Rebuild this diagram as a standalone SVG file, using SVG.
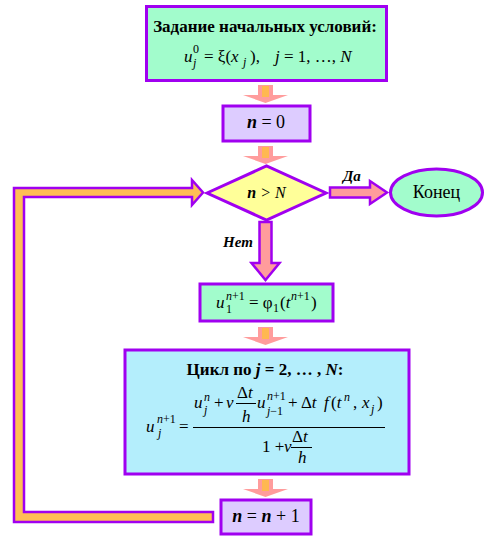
<svg xmlns="http://www.w3.org/2000/svg" width="504" height="550" viewBox="0 0 504 550" font-family="Liberation Serif, Times New Roman, serif">
<defs>
<style>
.box{stroke:#A000F0;stroke-width:3}
.g{fill:#A2FCCC}.l{fill:#DDCCFF}.c{fill:#B4EEFC}.y{fill:#FFFF99}
text{font-family:'Liberation Serif',serif;fill:#000;font-size:17px}
.s{font-size:12px}
.i{font-style:italic}
.b{font-weight:bold}
.ar{fill:#FF9C9C;stroke:#A000F0;stroke-width:2.5;stroke-linejoin:miter}
.bar{stroke:#000;stroke-width:1}
</style>
<g id="smallArrow">
<polygon points="-7.5,0 7.5,0 7.5,10 22.5,10 0,18 -22.5,10 -7.5,10" fill="#FF9C9C"/>
<rect x="-3.5" y="1" width="7" height="11" fill="#FFB850"/>
</g>
</defs>
<rect width="504" height="550" fill="#fff"/>

<g id="connectors">
<use href="#smallArrow" x="265.5" y="85"/>
<use href="#smallArrow" x="265.5" y="146"/>
<use href="#smallArrow" x="265.5" y="327"/>
<use href="#smallArrow" x="265.5" y="479"/>
<polygon class="ar" points="330,187.5 370,187.5 370,181 387,192.5 370,204 370,197.5 330,197.5"/>
<polygon class="ar" points="259.5,222 271.5,222 271.5,263 279.5,263 265.5,280 251.5,263 259.5,263"/>
<polygon points="213,512 24,512 24,197 192,197 192,205 203,192.5 192,180 192,188 14,188 14,522 213,522" fill="#FFBE55" stroke="#A000F0" stroke-width="2.5"/>
<text class="i b" x="343" y="181" style="font-size:15px">Да</text>
<text class="i b" x="223" y="247" style="font-size:15px">Нет</text>
</g>

<g id="init">
<rect class="box g" x="146.5" y="6.5" width="240" height="74"/>
<text class="b" x="265" y="32" text-anchor="middle">Задание начальных условий:</text>
<text class="i" x="184" y="62">u</text>
<text class="s" x="193" y="53">0</text>
<text class="s i" x="193" y="67">j</text>
<text x="204" y="62">= ξ(<tspan class="i">x</tspan></text>
<text class="s i" x="243" y="66">j</text>
<text x="250" y="62">),</text>
<text x="275" y="62"><tspan class="i">j</tspan> = 1, …, <tspan class="i">N</tspan></text>
</g>

<g id="n0">
<rect class="box l" x="223" y="106" width="87" height="35"/>
<text x="266" y="128" text-anchor="middle" style="font-size:18px"><tspan class="i b">n</tspan> = 0</text>
</g>

<g id="cond">
<polygon class="box y" points="207,193 266.5,166 326,193 266.5,220"/>
<text class="i" x="266.5" y="198" text-anchor="middle" style="font-size:16px"><tspan class="b">n</tspan> &gt; N</text>
</g>

<g id="end">
<ellipse class="box g" cx="436.5" cy="192.5" rx="46" ry="23.5"/>
<text x="436.5" y="198" text-anchor="middle" style="font-size:18px">Конец</text>
</g>

<g id="boundary">
<rect class="box g" x="200" y="284" width="133" height="37"/>
<text class="i" x="216" y="308">u</text>
<text class="s" x="226" y="300"><tspan class="i">n</tspan>+1</text>
<text class="s" x="226" y="313">1</text>
<text x="249" y="308">= φ</text>
<text class="s" x="273" y="312">1</text>
<text x="280" y="308">(<tspan class="i">t</tspan></text>
<text class="s" x="291" y="300"><tspan class="i">n</tspan>+1</text>
<text x="311" y="308">)</text>
</g>

<g id="loop">
<rect class="box c" x="125" y="350" width="284" height="124"/>
<text class="b" x="265" y="375" text-anchor="middle">Цикл по <tspan class="i">j</tspan> = 2, … , <tspan class="i">N</tspan>:</text>
<text class="i" x="146" y="432">u</text>
<text class="s" x="157" y="423"><tspan class="i">n</tspan>+1</text>
<text class="s i" x="158" y="437">j</text>
<text x="179" y="432">=</text>
<line class="bar" x1="193" y1="427.5" x2="385" y2="427.5"/>
<text class="i" x="194" y="408">u</text>
<text class="s i" x="204" y="401">n</text>
<text class="s i" x="204" y="414">j</text>
<text x="214" y="408">+</text>
<text class="i" x="226" y="408">ν</text>
<text x="237" y="398">Δ<tspan class="i">t</tspan></text>
<line class="bar" x1="236" y1="403.5" x2="256" y2="403.5"/>
<text class="i" x="242" y="422">h</text>
<text class="i" x="257" y="408">u</text>
<text class="s" x="267" y="400"><tspan class="i">n</tspan>+1</text>
<text class="s" x="267" y="415"><tspan class="i">j</tspan>−1</text>
<text x="288" y="408">+ Δ<tspan class="i">t</tspan></text>
<text class="i" x="324" y="408">f</text>
<text x="331" y="408">(<tspan class="i">t</tspan></text>
<text class="s i" x="344" y="401">n</text>
<text x="353" y="408">,</text>
<text class="i" x="362" y="408">x</text>
<text class="s i" x="371" y="413">j</text>
<text x="377" y="408">)</text>
<text x="262" y="452">1 +</text>
<text class="i" x="284" y="452">ν</text>
<text x="292" y="442">Δ<tspan class="i">t</tspan></text>
<line class="bar" x1="291" y1="447.5" x2="312" y2="447.5"/>
<text class="i" x="298" y="463">h</text>
</g>

<g id="inc">
<rect class="box l" x="221" y="500" width="90" height="34"/>
<text x="266" y="522" text-anchor="middle" style="font-size:18px"><tspan class="i b">n</tspan> = <tspan class="i b">n</tspan> + 1</text>
</g>
</svg>
